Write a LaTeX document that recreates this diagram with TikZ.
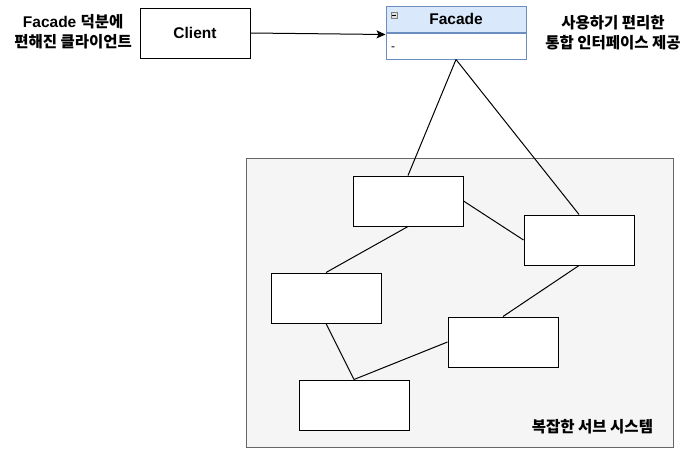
\documentclass[tikz,border=0pt]{standalone}
\usepackage{fontspec}
\setmainfont{Liberation Sans}
\newfontfamily\kr{Noto Sans CJK KR}
\usepackage{tikz}
\usetikzlibrary{shapes, arrows, arrows.meta, positioning}
\definecolor{facadefill}{HTML}{DAE8FC}
\definecolor{facadeline}{HTML}{6C8EBF}
\definecolor{sysfill}{HTML}{F5F5F5}
\definecolor{sysline}{HTML}{666666}
\tikzstyle{note} = [align=center, font=\bfseries\fontsize{15.5}{20}\selectfont]
\tikzstyle{client} = [rectangle, minimum width=110pt, minimum height=50pt, draw=black, fill=white, font=\bfseries\fontsize{15.5}{20}\selectfont]
\tikzstyle{facadehead} = [rectangle, minimum width=140pt, minimum height=26pt, draw=facadeline, fill=facadefill, font=\bfseries\fontsize{15.5}{20}\selectfont]
\tikzstyle{facadebody} = [rectangle, minimum width=140pt, minimum height=26pt, draw=facadeline, fill=white]
\tikzstyle{foldicon} = [rectangle, minimum size=6pt, draw=gray, fill=gray!25, line width=0.6pt]
\tikzstyle{subsystem} = [rectangle, minimum width=427pt, minimum height=289pt, draw=sysline, fill=sysfill]
\tikzstyle{subpart} = [rectangle, minimum width=110pt, minimum height=50pt, draw=black, fill=white]
\tikzstyle{arrow} = [->,>={Stealth[length=9pt,width=8pt,inset=2pt]}]

\begin{document}
\begin{tikzpicture}[x=1pt, y=1pt, line width=1pt, inner sep=0pt]
\useasboundingbox (0,0) rectangle (695,-458);
\node (client) [client] at (195,-33) {Client};
\node (hint) [note, left=7pt of client, yshift=1pt] {Facade {\kr 덕분에}\\{\kr 편해진 클라이언트}};
\node (fhead) [facadehead] at (456,-19) {Facade};
\node (fbody) [facadebody, below=0pt of fhead] {};
\node (fold) [foldicon, right=5pt of fhead.west, yshift=4pt] {};
\draw [line width=0.6pt] ([xshift=1pt]fold.west) -- ([xshift=-1pt]fold.east);
\node (dash) [right=5pt of fbody.west, yshift=-3pt, font=\fontsize{12}{14}\selectfont] {-};
\node (tagline) [note] at (613,-33) {{\kr 사용하기 편리한}\\{\kr 통합 인터페이스 제공}};

% sub system
\node (sys) [subsystem] at (459.5,-302.5) {};
\node (sysname) [note, anchor=east] at ([xshift=-20pt, yshift=21pt]sys.south east) {{\kr 복잡한 서브 시스템}};
\node (s1) [subpart] at (408,-201) {};
\node (s2) [subpart, right=60pt of s1, yshift=-39pt] {};
\node (s3) [subpart, below=46pt of s1, xshift=-82pt] {};
\node (s4) [subpart, below=51pt of s2, xshift=-76pt] {};
\node (s5) [subpart, below=56pt of s3, xshift=28pt] {};

\draw [arrow] (client.east) -- ([yshift=-2pt]fhead.south west);
\draw (fbody.south) -- (s1.north);
\draw (fbody.south) -- (s2.north);
\draw (s1.east) -- (s2.west);
\draw (s1.south) -- (s3.north);
\draw (s3.south) -- (s5.north);
\draw (s5.north) -- (s4.west);
\draw (s4.north) -- (s2.south);
\end{tikzpicture}
\end{document}
